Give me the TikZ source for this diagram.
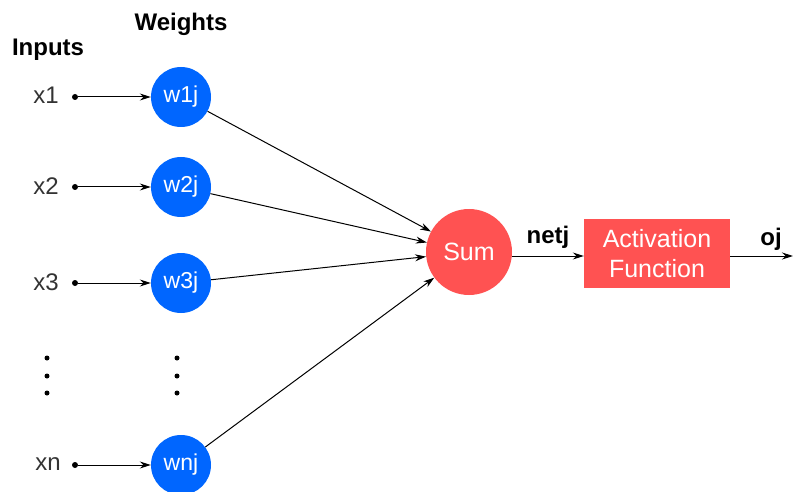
\documentclass[tikz,border=0pt]{standalone}
\usepackage{fontspec}
\setmainfont{Liberation Sans}
\usetikzlibrary{arrows.meta}
\definecolor{wblue}{HTML}{0066FF}
\definecolor{sred}{HTML}{FF5252}
\begin{document}
\begin{tikzpicture}[x=1pt,y=-1pt,
  txt/.style={font=\fontsize{24}{28}\selectfont, text=black!80, inner sep=0pt},
  hdr/.style={font=\fontsize{24}{28}\selectfont\bfseries, inner sep=0pt},
  wnode/.style={circle, fill=wblue, minimum size=60pt, inner sep=0pt, text=white, font=\fontsize{23}{26}\selectfont},
  snode/.style={circle, fill=sred, minimum size=86pt, inner sep=0pt, text=white, font=\fontsize{25}{28}\selectfont},
  anode/.style={rectangle, fill=sred, minimum width=146pt, minimum height=69pt, inner sep=0pt, text=white, align=center, font=\fontsize{25}{30}\selectfont},
  dotn/.style={circle, fill=black, minimum size=6pt, inner sep=0pt},
  vdot/.style={circle, fill=black, minimum size=5pt, inner sep=0pt},
  conn/.style={line width=1pt, -{Stealth[length=11pt,width=7pt]}},
]
\useasboundingbox (0,0) rectangle (793,492);
\node[hdr] (inputs) at (48,50) {Inputs};
\node[hdr] (weights) at (181,24) {Weights};

\node[wnode] (w1) at (181,97) {w1j};
\node[wnode] (w2) at (181,187) {w2j};
\node[wnode] (w3) at (181,283) {w3j};
\node[wnode] (wn) at (181,465) {wnj};

\node[txt] (x1) at (46,95) {x1};
\node[txt] (x2) at (46,186) {x2};
\node[txt] (x3) at (46,282) {x3};
\node[txt] (xn) at (48,464) {xn};

\node[dotn] (d1) at (75,97) {};
\node[dotn] (d2) at (75,187) {};
\node[dotn] (d3) at (75,283) {};
\node[dotn] (dn) at (75,465) {};

\foreach \y [count=\i] in {358,376,393} {
  \node[vdot] (vi\i) at (47,\y) {};
  \node[vdot] (vw\i) at (177,\y) {};
}

\node[snode] (sum) at (469,252) {Sum};
\node[anode] (act) at (657,253.5) {Activation\\Function};

\node[hdr] (netj) at (548,237) {netj};
\node[hdr] (oj) at (771,239) {oj};
\coordinate (out) at (793,256);

\draw[conn] (d1) -- (w1);
\draw[conn] (d2) -- (w2);
\draw[conn] (d3) -- (w3);
\draw[conn] (dn) -- (wn);

\draw[conn] (w1) -- (sum);
\draw[conn] (w2) -- (sum);
\draw[conn] (w3) -- (sum);
\draw[conn] (wn) -- (sum);

\draw[conn] (sum.east |- 0,256) -- (act.west |- 0,256);
\draw[conn] (act.east |- 0,256) -- (out);
\end{tikzpicture}
\end{document}
